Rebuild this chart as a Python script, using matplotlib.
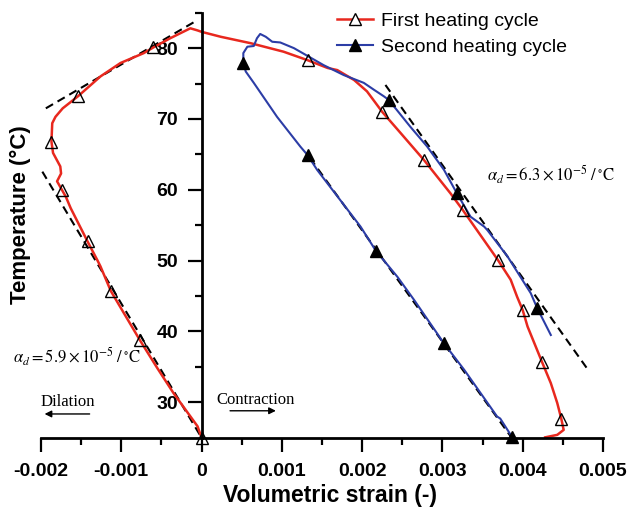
import matplotlib
matplotlib.use('Agg')
import matplotlib.pyplot as plt

# first heating cycle (red curve)
red_x = [0.0, -0.00005, -0.00035, -0.00055, -0.00077, -0.00113, -0.00126, -0.0013, -0.00142,
         -0.00163, -0.00169, -0.00174, -0.0018, -0.00175, -0.00176, -0.00185, -0.00187, -0.00186,
         -0.00182, -0.00173, -0.00154, -0.00126, -0.00101, -0.00072, -0.0006, -0.00039, -0.00014,
         -0.00005, 0.0, 0.00024, 0.00061, 0.00102, 0.00132, 0.00157, 0.00169, 0.0019, 0.00206,
         0.00225, 0.00248, 0.00277, 0.0031, 0.00325, 0.00343, 0.00369, 0.00385, 0.00393, 0.0040,
         0.00406, 0.00424, 0.00435, 0.00443, 0.00448, 0.00451, 0.00443, 0.00428]
red_y = [25.0, 26.6, 31.3, 34.8, 38.8, 45.7, 49.2, 50.1, 52.7,
         57.4, 59.0, 60.0, 61.2, 62.3, 63.3, 65.2, 66.8, 69.4,
         70.3, 71.5, 73.2, 76.0, 77.9, 79.3, 80.1, 81.4, 82.8,
         82.5, 82.3, 81.6, 80.7, 79.5, 78.3, 77.2, 76.9, 75.5, 73.9,
         71.0, 68.0, 64.2, 59.5, 57.2, 54.3, 50.1, 47.3, 44.9, 43.0,
         40.7, 35.7, 32.7, 29.9, 27.7, 26.1, 25.4, 25.05]
red_mark_x = [0.0, -0.00077, -0.00113, -0.00142, -0.00174, -0.00187, -0.00154, -0.0006,
              0.00132, 0.00225, 0.00277, 0.00325, 0.00369, 0.0040, 0.00424, 0.00448]
red_mark_y = [25.0, 38.8, 45.7, 52.7, 60.0, 66.8, 73.2, 80.1,
              78.3, 71.0, 64.2, 57.2, 50.1, 43.0, 35.7, 27.7]

# second heating cycle (blue curve)
blue_x = [0.00391, 0.00387, 0.00372, 0.00368, 0.00327, 0.00302, 0.00265, 0.00244, 0.00217,
          0.00198, 0.00144, 0.00132, 0.00123, 0.00094, 0.00065, 0.00055, 0.00052, 0.00052,
          0.00057, 0.00065, 0.00069, 0.00073, 0.0008, 0.00088, 0.00098, 0.00115, 0.00132,
          0.00152, 0.00177, 0.00202, 0.00215, 0.00227, 0.00233, 0.0026, 0.00281, 0.00302,
          0.00318, 0.00335, 0.00352, 0.00356, 0.00381, 0.0041, 0.00418, 0.00435]
blue_y = [24.6, 25.05, 27.7, 28.0, 34.6, 38.3, 44.4, 47.7, 51.4,
          54.8, 62.8, 64.9, 66.1, 70.3, 75.1, 76.7, 77.9, 79.3,
          80.2, 80.3, 81.4, 82.0, 81.6, 80.9, 80.8, 80.0, 78.9,
          77.6, 76.2, 75.1, 74.1, 73.2, 72.7, 68.9, 66.1, 62.8,
          59.5, 56.2, 54.8, 54.3, 50.6, 45.4, 43.3, 39.5]
blue_mark_x = [0.00052, 0.00132, 0.00217, 0.00302, 0.00387, 0.00233, 0.00318, 0.00418]
blue_mark_y = [77.9, 64.9, 51.4, 38.3, 25.05, 72.7, 59.5, 43.3]

# fitted dashed lines
fit1_x = [-0.00194, -0.000075]
fit1_y = [71.5, 83.8]
fit2_x = [-0.00207, 0.0]
fit2_y = [64.2, 25.0]
fit3_x = [0.00229, 0.0048]
fit3_y = [74.8, 34.8]
fit4_x = [0.00135, 0.0039]
fit4_y = [64.5, 24.4]

x_ticks = [-0.002, -0.001, 0, 0.001, 0.002, 0.003, 0.004, 0.005]
x_labels = ['-0.002', '-0.001', '0', '0.001', '0.002', '0.003', '0.004', '0.005']
y_ticks = [30, 40, 50, 60, 70, 80]

plt.rcParams['font.family'] = ['Liberation Sans', 'DejaVu Sans']
plt.rcParams['mathtext.fontset'] = 'stix'

fig = plt.figure(figsize=(6.28, 5.17), dpi=100)
ax = fig.add_axes([0.0653, 0.1534, 0.8949, 0.8220])

red = '#e8281e'
blue = '#2c3da6'
dash = dict(color='black', lw=1.5, dashes=(4, 2.5), zorder=1.5)
ax.plot(fit1_x, fit1_y, **dash)
ax.plot(fit2_x, fit2_y, **dash)
ax.plot(fit3_x, fit3_y, **dash)
ax.plot(fit4_x, fit4_y, **dash)

ax.plot(red_x, red_y, color=red, lw=1.8, zorder=2)
ax.plot(blue_x, blue_y, color=blue, lw=1.5, zorder=2)
ax.plot(red_mark_x, red_mark_y, ls='none', marker='^', ms=8, mfc='none', mec='black', mew=1.0,
        zorder=3, clip_on=False)
ax.plot(blue_mark_x, blue_mark_y, ls='none', marker='^', ms=8, mfc='black', mec='black',
        zorder=3, clip_on=False)

# legend proxies
ax.plot([], [], color=red, lw=1.8, marker='^', ms=8, mfc='white', mec='black', mew=1.0,
        label='First heating cycle')
ax.plot([], [], color=blue, lw=1.5, marker='^', ms=8, mfc='black', mec='black',
        label='Second heating cycle')
ax.legend(loc='upper left', bbox_to_anchor=(0.536, 0.976), bbox_transform=fig.transFigure,
          frameon=False, fontsize=14, borderpad=0, borderaxespad=0, handlelength=1.85,
          handletextpad=0.43, labelspacing=0.42)

ax.set_xlim(-0.002, 0.005)
ax.set_ylim(25, 85)
ax.spines['left'].set_position(('data', 0))
ax.spines['top'].set_visible(False)
ax.spines['right'].set_visible(False)
ax.spines['left'].set_linewidth(2)
ax.spines['bottom'].set_linewidth(2)

ax.set_xticks(x_ticks)
ax.set_xticklabels(x_labels)
ax.set_xticks([-0.0015, -0.0005, 0.0005, 0.0015, 0.0025, 0.0035, 0.0045], minor=True)
ax.set_yticks(y_ticks)
ax.set_yticks([35, 45, 55, 65, 75, 85], minor=True)
ax.tick_params(which='major', direction='out', length=10, width=1.6, labelsize=14, pad=7)
ax.tick_params(axis='x', which='major', pad=8)
ax.tick_params(which='minor', direction='out', length=5, width=1.6)
for lab in ax.get_xticklabels() + ax.get_yticklabels():
    lab.set_fontweight('bold')

ax.set_xlabel('Volumetric strain (-)', fontsize=16.5, fontweight='bold')
ax.xaxis.set_label_coords(0.514, -0.11)
fig.text(0.033, 0.585, 'Temperature (\u00b0C)', rotation=90, fontsize=16, fontweight='bold',
         ha='center', va='center')

ax.text(0.00356, 62.1, r'$\alpha_d = 6.3\times10^{-5}\ /\,^{\circ}\mathrm{C}$', fontsize=12,
        ha='left', va='center')
ax.text(-0.00235, 36.4, r'$\alpha_d = 5.9\times10^{-5}\ /\,^{\circ}\mathrm{C}$', fontsize=12,
        ha='left', va='center', clip_on=False)

ax.text(-0.002, 30.1, 'Dilation', family='Liberation Serif', fontsize=12, ha='left', va='center')
ax.text(0.00019, 30.3, 'Contraction', family='Liberation Serif', fontsize=12, ha='left', va='center')
ax.annotate('', xy=(-0.00199, 28.35), xytext=(-0.00136, 28.35),
            arrowprops=dict(arrowstyle='-|>', color='black', lw=1, mutation_scale=10))
ax.annotate('', xy=(0.00096, 28.8), xytext=(0.00032, 28.8),
            arrowprops=dict(arrowstyle='-|>', color='black', lw=1, mutation_scale=10))

fig.savefig('out.png', dpi=100)
